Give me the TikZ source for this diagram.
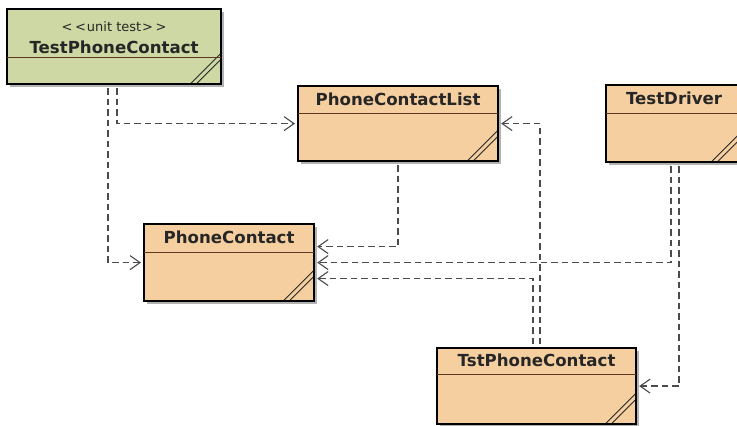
\documentclass[tikz,border=0pt]{standalone}
\usepackage{fontspec}
\setmainfont{DejaVu Sans}
\usetikzlibrary{arrows.meta,calc,shadows}
\definecolor{cFill}{RGB}{246,207,160}
\definecolor{cTest}{RGB}{206,216,164}
\definecolor{cLine}{RGB}{75,75,75}
\definecolor{cRule}{RGB}{95,55,35}
\tikzset{
  cls/.style={rectangle, draw=black, line width=2.2pt, fill=cFill, inner sep=0pt,
              drop shadow={shadow xshift=2.5pt, shadow yshift=-2.5pt,
                           fill=black, opacity=0.3},
              path picture={
                \draw[hatch] ([xshift=-31pt]path picture bounding box.south east)
                  -- ([yshift=31pt]path picture bounding box.south east);
                \draw[hatch] ([xshift=-25pt]path picture bounding box.south east)
                  -- ([yshift=25pt]path picture bounding box.south east);}},
  test/.style={cls, fill=cTest},
  hatch/.style={draw=black!85, line width=0.8pt},
  divider/.style={draw=cRule, line width=0.9pt, shorten <=1pt, shorten >=1pt},
  title/.style={font=\fontsize{16.6}{18}\selectfont\bfseries, text=black!85,
                align=center, inner sep=0pt},
  dep/.style={draw=cLine, line width=1.3pt, dash pattern=on 6.5pt off 4pt,
              -{Straight Barb[length=10pt, width=14pt, line width=1.1pt]},
              shorten <=3pt, shorten >=2pt},
}
\newcommand{\UmlClass}[7][cls]{%
  \node[#1, minimum width=#4pt, minimum height=#5pt, anchor=north west] (#2) at (#3) {};
  \draw[divider] ([yshift=-#6pt]#2.north west) -- ([yshift=-#6pt]#2.north east);
  \node[title] at ([yshift=-#6pt/2]#2.north) {#7};}

\begin{document}
\begin{tikzpicture}[x=1pt, y=-1pt]
  \useasboundingbox (0,0) rectangle (737,426);
  \UmlClass[test]{tpc}{6,8}{214}{75}{49}{%
    {\fontsize{13}{15}\selectfont\mdseries\rule{0pt}{20pt}<\kern2.5pt<\kern1pt unit test\kern1pt>\kern2.5pt>}\\[4pt]
    TestPhoneContact}
  \UmlClass{pcl}{297,85}{200}{75}{28}{PhoneContactList}
  \UmlClass{td}{605,84}{136}{77}{29}{TestDriver}
  \UmlClass{pc}{143,223}{170}{77}{29}{PhoneContact}
  \UmlClass{tst}{436,347}{199}{76}{27}{TstPhoneContact}

  \draw[dep] ([xshift=3pt]tpc.south) |- (pcl.west);
  \draw[dep] ([xshift=-6pt]tpc.south) |- (pc.west);
  \draw[dep] (pcl.south) |- ([yshift=16pt]pc.east);
  \draw[dep] ([xshift=-3pt]td.south) |- (pc.east);
  \draw[dep] ([xshift=-3.5pt]tst.north) |- ([yshift=-16pt]pc.east);
  \draw[dep] ([xshift=3.5pt]tst.north) |- (pcl.east);
  \draw[dep] ([xshift=5pt]td.south) |- (tst.east);
\end{tikzpicture}
\end{document}
